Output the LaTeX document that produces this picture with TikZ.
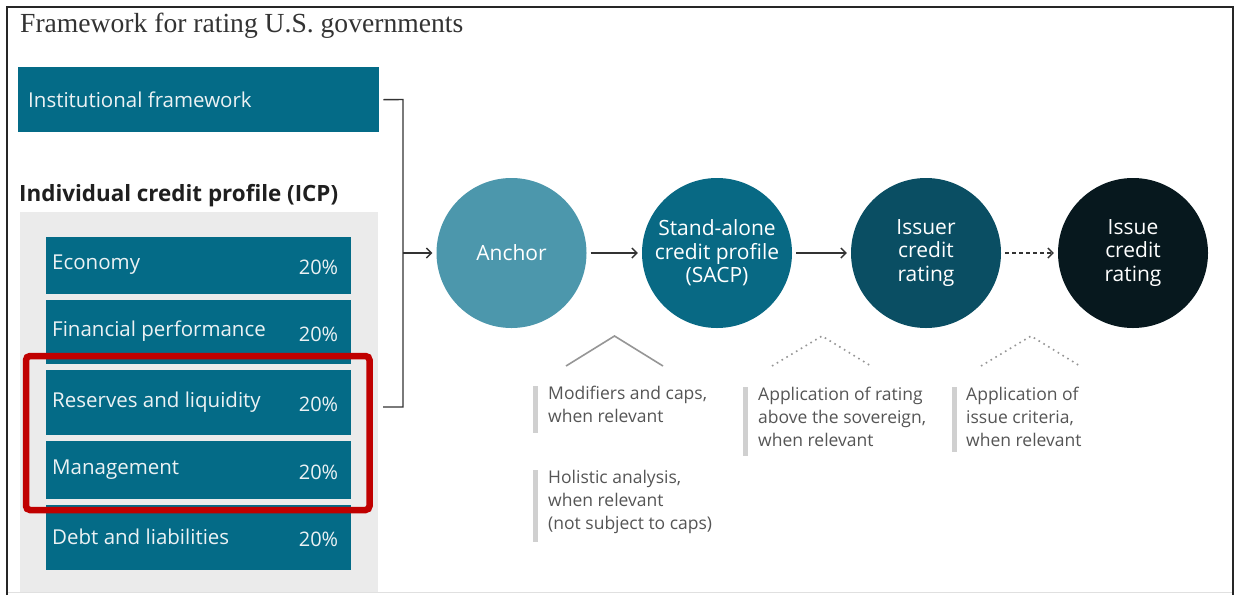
\documentclass[tikz,border=0pt]{standalone}
\usepackage{fontspec}
\setmainfont{Liberation Serif}
\newfontfamily\uisans{Open Sans}
\usetikzlibrary{arrows.meta}

\definecolor{boxteal}{RGB}{4,107,135}
\definecolor{anchorteal}{RGB}{76,151,172}
\definecolor{sacpteal}{RGB}{8,105,132}
\definecolor{issuerteal}{RGB}{10,78,99}
\definecolor{issueblack}{RGB}{7,24,30}
\definecolor{panelgray}{RGB}{235,235,235}
\definecolor{bargray}{RGB}{208,208,208}
\definecolor{notegray}{RGB}{85,85,85}
\definecolor{linegray}{RGB}{51,51,51}
\definecolor{chevgray}{RGB}{150,150,150}
\definecolor{hilite}{RGB}{192,0,0}
\definecolor{boxtext}{RGB}{236,242,244}

\tikzset{
  catbox/.style={fill=boxteal, draw=none, minimum width=305pt, inner sep=0pt, anchor=north west},
  cattext/.style={anchor=west, text=boxtext, inner sep=0pt, font=\uisans\fontsize{20.5}{24}\selectfont},
  pcttext/.style={anchor=east, text=boxtext, inner sep=0pt, font=\uisans\fontsize{20}{24}\selectfont},
  stage/.style={circle, minimum size=150pt, inner sep=0pt, text=white, align=center,
    font=\uisans\fontsize{21}{23.5}\selectfont},
  conn/.style={draw=linegray, line width=1.4pt},
  flow/.style={conn, -{Straight Barb[length=5pt,width=10pt,line width=1.4pt]},
    shorten <=4pt, shorten >=4pt},
  note/.style={anchor=north west, align=left, inner sep=0pt, text=notegray,
    font=\uisans\fontsize{17.5}{23}\selectfont},
  notebar/.style={fill=bargray, draw=none},
  chevron/.style={draw=chevgray, line width=1.6pt},
  dotchevron/.style={draw=chevgray, line width=1.6pt, dash pattern=on 1.6pt off 4pt},
}

\begin{document}
\begin{tikzpicture}[x=1pt, y=-1pt]
  \useasboundingbox (0,0) rectangle (1234,595);
  \fill[white] (0,0) rectangle (1234,595);

  % outer frame
  \draw[draw=black!85, line width=2.5pt] (7,595) -- (7,7) -- (1233,7) -- (1233,595);
  \draw[draw=black!12, line width=1pt] (8,592) -- (1232,592);

  % title
  \node[anchor=base west, inner sep=0pt, text=black!80,
        font=\fontsize{27.6}{30}\selectfont] (title) at (20,32)
        {Framework for rating U.S. governments};

  % institutional framework
  \node[catbox, minimum width=361pt, minimum height=65pt] (inst) at (18,67) {};
  \node[cattext] (insttxt) at ([xshift=10pt]inst.west) {Institutional framework};

  % individual credit profile
  \node[anchor=base west, inner sep=0pt, text=black!88,
        font=\uisans\bfseries\fontsize{22.4}{26}\selectfont] (icp) at (19,201)
        {Individual credit profile (ICP)};
  \node[fill=panelgray, draw=none, inner sep=0pt, anchor=north west,
        minimum width=358pt, minimum height=380pt] (panel) at (20,212) {};

  \node[catbox, minimum height=57pt] (eco) at (46,237) {};
  \node[catbox, minimum height=64pt] (fin) at (46,300) {};
  \node[catbox, minimum height=65pt] (res) at (46,370) {};
  \node[catbox, minimum height=58pt] (mgt) at (46,441) {};
  \node[catbox, minimum height=65pt] (debt) at (46,505) {};

  \node[cattext] at ([xshift=6pt,yshift=1pt]eco.west) {Economy};
  \node[cattext] at ([xshift=6pt,yshift=1pt]fin.west) {Financial performance};
  \node[cattext] at ([xshift=6pt,yshift=1pt]res.west) {Reserves and liquidity};
  \node[cattext] at ([xshift=6pt,yshift=1pt]mgt.west) {Management};
  \node[cattext] at ([xshift=6pt,yshift=1pt]debt.west) {Debt and liabilities};
  \foreach \b in {eco,fin,res,mgt,debt}
    \node[pcttext] at ([xshift=-13pt,yshift=-2pt]\b.east) {20\%};

  % highlight around reserves and management
  \draw[draw=hilite, line width=6.5pt, rounded corners=4pt] (26,356) rectangle (369.5,510);

  % stages
  \node[stage, fill=anchorteal] (anc) at (511.5,253) {Anchor};
  \node[stage, fill=sacpteal] (sacp) at (717,253) {Stand-alone\\credit profile\\(SACP)};
  \node[stage, fill=issuerteal] (issuer) at (926,253) {Issuer\\credit\\rating};
  \node[stage, fill=issueblack] (issue) at (1133,253) {Issue\\credit\\rating};

  % bracket joining the inputs
  \coordinate (brtop) at (403,99.5);
  \coordinate (brbot) at (403,407);
  \coordinate (brmid) at (403,253);
  \draw[conn] ([xshift=4pt]inst.east) -- (brtop) -- (brbot) -- (383,407);
  \draw[flow, shorten <=0pt] (brmid) -- (anc);

  \draw[flow] (anc) -- (sacp);
  \draw[flow] (sacp) -- (issuer);
  \draw[flow, dash pattern=on 4pt off 3pt] (issuer) -- (issue);

  % chevrons under the stages
  \draw[chevron] (566,366) -- (614.5,336) -- (663,366);
  \draw[dotchevron] (772,366) -- (822,336) -- (871,366);
  \draw[dotchevron] (981,366) -- (1031,336) -- (1080,366);

  % notes
  \fill[notebar] (533,386) rectangle (538,433);
  \node[note] (n1) at (548,386) {Modifiers and caps,\\when relevant};
  \fill[notebar] (533,470) rectangle (538,542);
  \node[note] (n2) at (548,470) {Holistic analysis,\\when relevant\\(not subject to caps)};
  \fill[notebar] (743,387) rectangle (748,456);
  \node[note] (n3) at (758,387) {Application of rating\\above the sovereign,\\when relevant};
  \fill[notebar] (952,387) rectangle (957,452);
  \node[note] (n4) at (966,387) {Application of\\issue criteria,\\when relevant};
\end{tikzpicture}
\end{document}
